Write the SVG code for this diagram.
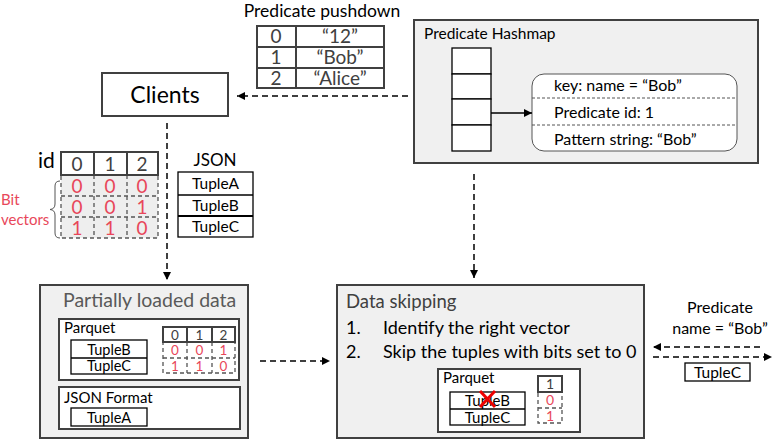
<svg xmlns="http://www.w3.org/2000/svg" width="775" height="441" viewBox="0 0 775 441">
<defs>
<marker id="ah" viewBox="0 0 10 10" refX="10" refY="5" markerWidth="8" markerHeight="8" markerUnits="userSpaceOnUse" orient="auto">
<path d="M0,0 L10,5 L0,10 Z" fill="#000"/>
</marker>
</defs>
<style>
text{font-family:Lato,"Liberation Sans",sans-serif;fill:#000}
.panel{fill:#f0f0f0;stroke:#404040;stroke-width:2}
.box{fill:#fff;stroke:#404040;stroke-width:2}
.cell{fill:#fff;stroke:#000;stroke-width:1.3}
.dash{fill:none;stroke:#000;stroke-width:1.5;stroke-dasharray:6,4}
.bits{fill:#eeeeee;stroke:#555;stroke-width:1.3;stroke-dasharray:4,3}
.bitl{stroke:#555;stroke-width:1.3;stroke-dasharray:4,3}
.red{fill:#e8475a}
.gray{fill:#404040}
.c{text-anchor:middle}
</style>

<g id="predicate-pushdown">
<text x="322" y="17" class="c" font-size="17.5">Predicate pushdown</text>
<rect x="257" y="26" width="127" height="62" fill="#fff" stroke="#404040" stroke-width="2"/>
<line x1="257" y1="47" x2="384" y2="47" stroke="#404040" stroke-width="2"/>
<line x1="257" y1="68" x2="384" y2="68" stroke="#404040" stroke-width="2"/>
<line x1="296" y1="26" x2="296" y2="88" stroke="#404040" stroke-width="2"/>
<g font-size="19">
<text x="276" y="43" class="c gray">0</text>
<text x="340" y="43" class="c gray">“12”</text>
<text x="276" y="64" class="c gray">1</text>
<text x="340" y="64" class="c gray">“Bob”</text>
<text x="276" y="85" class="c gray">2</text>
<text x="340" y="85" class="c gray">“Alice”</text>
</g>
</g>

<g id="clients">
<rect x="102" y="73" width="126" height="43" fill="#fff" stroke="#404040" stroke-width="2"/>
<text x="165" y="103" class="c" font-size="23">Clients</text>
</g>

<g id="predicate-hashmap">
<rect x="414" y="20" width="344" height="143" class="panel"/>
<text x="424" y="39" font-size="15.5">Predicate Hashmap</text>
<rect x="452" y="48" width="39" height="26" class="cell"/>
<rect x="452" y="74" width="39" height="25" class="cell"/>
<rect x="452" y="99" width="39" height="26" class="cell"/>
<rect x="452" y="125" width="39" height="26" class="cell"/>
<rect x="532" y="74" width="205" height="77" rx="12" fill="#fff" stroke="#555" stroke-width="1"/>
<line x1="532" y1="98" x2="737" y2="98" stroke="#555" stroke-width="1" stroke-dasharray="3,2"/>
<line x1="532" y1="125" x2="737" y2="125" stroke="#555" stroke-width="1" stroke-dasharray="3,2"/>
<text x="554" y="91" font-size="16">key: name = “Bob”</text>
<text x="554" y="118" font-size="16">Predicate id: 1</text>
<text x="554" y="145" font-size="16">Pattern string: “Bob”</text>
</g>

<g id="bit-vectors">
<text x="38" y="168" font-size="21">id</text>
<rect x="61" y="175" width="97" height="63" class="bits"/>
<line x1="61" y1="196" x2="158" y2="196" class="bitl"/>
<line x1="61" y1="217" x2="158" y2="217" class="bitl"/>
<line x1="94" y1="175" x2="94" y2="238" class="bitl"/>
<line x1="127" y1="175" x2="127" y2="238" class="bitl"/>
<rect x="61" y="152" width="97" height="23" fill="#fff" stroke="#404040" stroke-width="2"/>
<line x1="94" y1="152" x2="94" y2="175" stroke="#404040" stroke-width="2"/>
<line x1="127" y1="152" x2="127" y2="175" stroke="#404040" stroke-width="2"/>
<g font-size="19">
<text x="77" y="171" class="c gray">0</text>
<text x="110" y="171" class="c gray">1</text>
<text x="142" y="171" class="c gray">2</text>
<text x="77" y="193" class="c red">0</text>
<text x="110" y="193" class="c red">0</text>
<text x="142" y="193" class="c red">0</text>
<text x="77" y="214" class="c red">0</text>
<text x="110" y="214" class="c red">0</text>
<text x="142" y="214" class="c red">1</text>
<text x="77" y="235" class="c red">1</text>
<text x="110" y="235" class="c red">1</text>
<text x="142" y="235" class="c red">0</text>
</g>
<path d="M60,181 Q55,181 55,186 L55,204 Q55,209 50,209.5 Q55,210 55,215 L55,233 Q55,238 60,238" fill="none" stroke="#555" stroke-width="1"/>
<text x="1" y="205" font-size="15" class="red">Bit</text>
<text x="1" y="225" font-size="15" class="red">vectors</text>
</g>

<g id="json">
<text x="215" y="166" class="c" font-size="17">JSON</text>
<rect x="178" y="172" width="75" height="65" class="cell"/>
<line x1="178" y1="195" x2="253" y2="195" stroke="#000" stroke-width="1.3"/>
<line x1="178" y1="216" x2="253" y2="216" stroke="#000" stroke-width="2.2"/>
<text x="215.5" y="189" class="c" font-size="15.5">TupleA</text>
<text x="215.5" y="211" class="c" font-size="15.5">TupleB</text>
<text x="215.5" y="232" class="c" font-size="15.5">TupleC</text>
</g>

<g id="partially-loaded-data">
<rect x="40" y="285" width="208" height="153" class="panel"/>
<text x="63" y="307" font-size="19.5" style="fill:#595959">Partially loaded data</text>
<rect x="59" y="319" width="180" height="61" class="box"/>
<text x="64" y="333" font-size="15">Parquet</text>
<rect x="71" y="340" width="76" height="34" class="cell"/>
<line x1="71" y1="358" x2="147" y2="358" stroke="#000" stroke-width="1.3"/>
<text x="109" y="354.5" class="c" font-size="14.5">TupleB</text>
<text x="109" y="371" class="c" font-size="14.5">TupleC</text>
<rect x="163" y="342" width="72" height="31" fill="none" class="bitl"/>
<line x1="163" y1="358" x2="235" y2="358" class="bitl"/>
<line x1="187" y1="342" x2="187" y2="373" class="bitl"/>
<line x1="212" y1="342" x2="212" y2="373" class="bitl"/>
<rect x="163" y="327" width="72" height="15" fill="#fff" stroke="#404040" stroke-width="2"/>
<line x1="187" y1="327" x2="187" y2="342" stroke="#404040" stroke-width="2"/>
<line x1="212" y1="327" x2="212" y2="342" stroke="#404040" stroke-width="2"/>
<g font-size="13.5">
<text x="175" y="339.5" class="c gray">0</text>
<text x="199.5" y="339.5" class="c gray">1</text>
<text x="223.5" y="339.5" class="c gray">2</text>
<text x="175" y="355" class="c red">0</text>
<text x="199.5" y="355" class="c red">0</text>
<text x="223.5" y="355" class="c red">1</text>
<text x="175" y="370.5" class="c red">1</text>
<text x="199.5" y="370.5" class="c red">1</text>
<text x="223.5" y="370.5" class="c red">0</text>
</g>
<rect x="59" y="387" width="181" height="42" class="box"/>
<text x="64" y="403" font-size="15">JSON Format</text>
<rect x="71" y="408" width="76" height="18" class="cell"/>
<text x="109" y="422.5" class="c" font-size="14.5">TupleA</text>
</g>

<g id="data-skipping">
<rect x="337" y="285" width="307" height="153" class="panel"/>
<text x="346" y="308" font-size="18.5" style="fill:#404040">Data skipping</text>
<text x="346" y="334" font-size="18">1.</text>
<text x="383" y="334" font-size="18">Identify the right vector</text>
<text x="346" y="358" font-size="18">2.</text>
<text x="383" y="358" font-size="18">Skip the tuples with bits set to 0</text>
<rect x="438" y="369" width="142" height="63" class="box"/>
<text x="443" y="383" font-size="15">Parquet</text>
<rect x="450" y="392" width="75" height="33" class="cell"/>
<line x1="450" y1="409" x2="525" y2="409" stroke="#000" stroke-width="1.3"/>
<text x="487.5" y="406" class="c" font-size="15">TupleB</text>
<text x="487.5" y="422.5" class="c" font-size="15">TupleC</text>
<path d="M480,391 L495,407 M495,391 L480,407" stroke="#e00" stroke-width="3" fill="none"/>
<rect x="538" y="392" width="24" height="31" fill="none" class="bitl"/>
<line x1="538" y1="408" x2="562" y2="408" class="bitl"/>
<rect x="538" y="376" width="24" height="16" fill="#fff" stroke="#404040" stroke-width="2"/>
<text x="550" y="389" class="c gray" font-size="14">1</text>
<text x="550" y="405" class="c red" font-size="14">0</text>
<text x="550" y="420.5" class="c red" font-size="14">1</text>
</g>

<g id="external-predicate">
<text x="720" y="313" class="c" font-size="16">Predicate</text>
<text x="720" y="334" class="c" font-size="16">name = “Bob”</text>
<rect x="685" y="363" width="65" height="18" class="cell"/>
<text x="717.5" y="377.5" class="c" font-size="15.5">TupleC</text>
</g>

<g id="connectors">
<line x1="408" y1="96" x2="237" y2="96" class="dash" marker-end="url(#ah)"/>
<line x1="491" y1="113" x2="532" y2="113" stroke="#000" stroke-width="1.5" marker-end="url(#ah)"/>
<line x1="167" y1="123" x2="167" y2="280" class="dash" marker-end="url(#ah)"/>
<line x1="474" y1="174" x2="474" y2="278" class="dash" marker-end="url(#ah)"/>
<line x1="260" y1="361" x2="330" y2="361" class="dash" marker-end="url(#ah)"/>
<line x1="760" y1="347" x2="653" y2="347" class="dash" marker-end="url(#ah)"/>
<line x1="653" y1="357" x2="772" y2="357" class="dash" marker-end="url(#ah)"/>
</g>
</svg>
